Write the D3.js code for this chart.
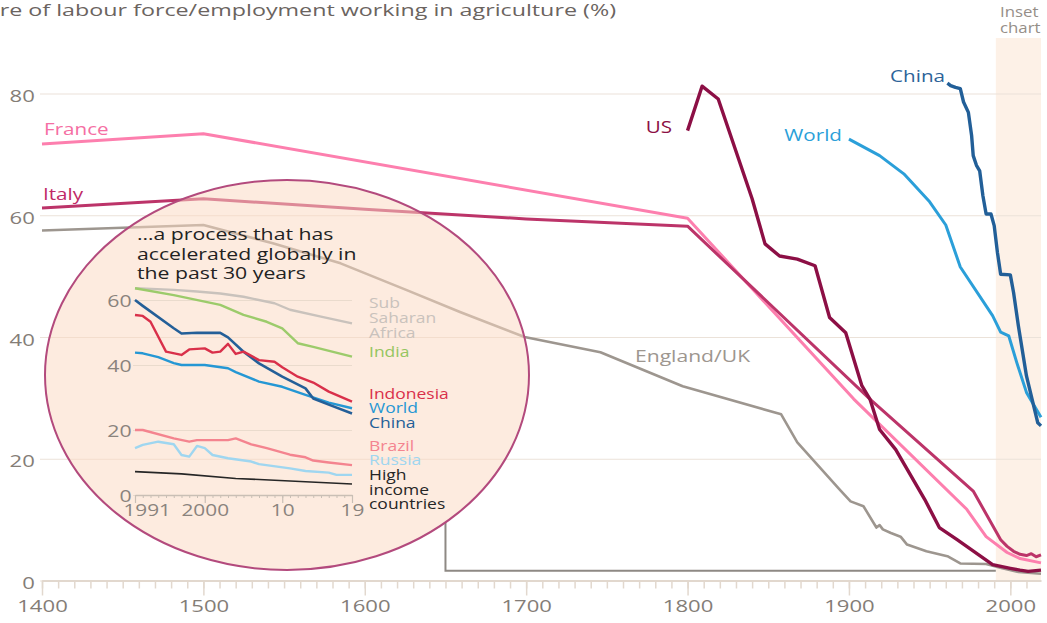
<!DOCTYPE html>
<html>
<head>
<meta charset="utf-8">
<script src="https://cdn.jsdelivr.net/npm/d3@7"></script>
<style>
  body { margin: 0; background: #fff; }
  svg { font-family: "Open Sans", sans-serif; }
</style>
</head>
<body>
<svg id="chart" width="1047" height="623"></svg>
<script>
// main chart data: [year, % of labour force in agriculture]
var england = [[1400,57.5],[1500,58.4],[1543,55.4],[1585,52.1],[1626,47.7],[1659,44.1],[1699,40],[1746,37.5],[1797,31.9],[1858,27.3],[1868,22.7],[1894,15],[1901,13],[1909,12.2],[1917,8.7],[1919,9.1],[1921,8.4],[1926,7.8],[1932,7.2],[1936,5.9],[1948,4.8],[1961,4],[1969,2.8],[1985,2.7],[1995,2.0],[2005,1.4],[2019,1.1]];
var france = [[1400,71.7],[1500,73.4],[1800,59.5],[1903,29.8],[1973,11.7],[1985,7.2],[1998,4.6],[2006,3.6],[2019,2.9]];
var italy = [[1400,61.2],[1500,62.7],[1600,61.0],[1700,59.4],[1800,58.2],[1913,29.8],[1977,14.7],[1994,6.7],[1998,5.6],[2002,4.8],[2006,4.3],[2010,4.1],[2013,4.4],[2016,3.9],[2019,4.2]];
var us = [[1800,73.9],[1809,81.2],[1819,79.1],[1840,62.7],[1848,55.3],[1857,53.3],[1868,52.8],[1879,51.7],[1888,43.2],[1898,40.7],[1908,32],[1913,29.8],[1919,24.8],[1929,21.5],[1947,13.3],[1956,8.7],[1967,6.7],[1989,2.6],[2000,2.0],[2006,1.7],[2011,1.5],[2019,1.7]];
var world = [[1900,72.5],[1919,69.8],[1934,66.8],[1950,62.2],[1960,58.4],[1969,51.5],[1989,43.5],[1994,40.8],[1999,40.2],[2004,35.8],[2010,30.9],[2019,26.8]];
var china = [[1961,81.7],[1963,81.3],[1966,81.0],[1969,80.8],[1971,78.6],[1974,76.9],[1976,73.1],[1977,69.8],[1979,68.2],[1981,67.3],[1983,63.2],[1985,60.2],[1988,60.2],[1990,58.3],[1992,53.9],[1994,50.3],[2000,50.2],[2002,47.3],[2005,41.8],[2010,33.6],[2017,25.9],[2019,25.4]];

var yTicks = [0, 20, 40, 60, 80];
var xMajor = [1400, 1500, 1600, 1700, 1800, 1900, 2000];

// inset chart data (1991-2019)
var inSSA = [[1991,63.6],[1996,63.1],[1999,62.6],[2002,62],[2005,61],[2009,59],[2011,57],[2015,54.9],[2019,52.8]];
var inIndia = [[1991,63.6],[1996,61.5],[2002,58.5],[2005,55.4],[2008,53.3],[2010,51.3],[2012,46.7],[2014,45.6],[2019,42.6]];
var inIndonesia = [[1991,55.4],[1992,55.1],[1993,53.3],[1995,44.1],[1997,43.1],[1998,44.8],[2000,45.1],[2001,43.8],[2002,44.1],[2003,46.5],[2004,43.4],[2005,44.1],[2007,41.5],[2009,41],[2010,39.3],[2012,36.4],[2014,34.6],[2016,31.8],[2019,28.7]];
var inWorld = [[1991,43.8],[1992,43.6],[1994,42.4],[1996,40.6],[1997,40],[2000,40],[2003,39],[2004,37.8],[2007,34.9],[2010,33.3],[2013,30.8],[2016,28.4],[2019,26.7]];
var inChina = [[1991,60],[1992,58.2],[1996,51.3],[1997,49.7],[1999,49.9],[2002,49.9],[2003,48.5],[2005,44.1],[2007,40.5],[2010,36.4],[2013,32.8],[2014,29.7],[2016,27.8],[2019,25.1]];
var inBrazil = [[1991,20],[1992,20],[1996,17.4],[1998,16.4],[1999,16.9],[2003,16.9],[2004,17.4],[2006,15.6],[2008,14.4],[2011,12.4],[2013,11.6],[2014,10.6],[2016,10],[2019,9.2]];
var inRussia = [[1991,14.4],[1992,15.4],[1994,16.4],[1996,15.6],[1997,12.3],[1998,11.8],[1999,15.1],[2000,14.4],[2001,12.3],[2003,11.3],[2006,10.3],[2007,9.5],[2011,8.2],[2013,7.4],[2016,6.9],[2017,6.2],[2019,6.2]];
var inHigh = [[1991,7.2],[1997,6.5],[2004,5.1],[2013,4.1],[2019,3.4]];

var inYTicks = [0, 20, 40, 60];
var inXLabels = [1991, 2000, 2010, 2019];

var svg = d3.select("#chart");
var x = d3.scaleLinear().domain([1400, 2019]).range([42, 1041]);
var y = d3.scaleLinear().domain([0, 80]).range([580.5, 93.5]);

// the source picture is stretched sideways, so text gets a horizontal scale
function label(parent, px, py, str, color, size, anchor, sx) {
  return parent.append("text")
    .attr("transform", "translate(" + px + "," + py + ") scale(" + (sx || 1.29) + ",1)")
    .attr("text-anchor", anchor || "start")
    .attr("fill", color)
    .style("font-size", size + "px")
    .text(str);
}

// shaded band for the inset period
svg.append("rect")
  .attr("x", x(1991)).attr("y", 38)
  .attr("width", x(2019) - x(1991))
  .attr("height", y(0) - 38)
  .attr("fill", "#fdf1e7");

// gridlines and y labels
var gy = svg.append("g")
  .attr("transform", "translate(40,0)")
  .call(d3.axisLeft(y).tickValues(yTicks).tickSize(-(x(2019) - 40)).tickPadding(4));
gy.attr("font-family", null).attr("font-size", null);
gy.select(".domain").remove();
gy.selectAll("line").attr("stroke", "#ebe2d9").attr("stroke-width", 1.2);
gy.selectAll("text").attr("fill", "#847d77").style("font-size", "17px")
  .attr("dy", "0.48em").attr("transform", "scale(1.3,1)");

// x axis: minor ticks every decade, major every century
var gxMinor = svg.append("g")
  .attr("transform", "translate(0," + y(0) + ")")
  .call(d3.axisBottom(x).tickValues(d3.range(1400, 2020, 10)).tickSize(8).tickSizeOuter(0).tickFormat(""));
gxMinor.selectAll("line").attr("stroke", "#e2d8ce").attr("stroke-width", 1.5);
gxMinor.select(".domain").attr("stroke", "#e2d8ce").attr("stroke-width", 2);

var gx = svg.append("g")
  .attr("transform", "translate(0," + y(0) + ")")
  .call(d3.axisBottom(x).tickValues(xMajor).tickSize(15).tickPadding(4).tickFormat(d3.format("d")));
gx.attr("font-family", null).attr("font-size", null);
gx.select(".domain").remove();
gx.selectAll("line").attr("stroke", "#e2d8ce").attr("stroke-width", 1.5);
gx.selectAll("text").attr("fill", "#847d77").style("font-size", "17px")
  .attr("transform", "scale(1.3,1)");

// main lines
var line = d3.line().x(function(d) { return x(d[0]); }).y(function(d) { return y(d[1]); });
var mainSeries = [
  {data: england, color: "#9d968f", w: 2.6},
  {data: france, color: "#fd7fae", w: 3},
  {data: italy, color: "#bc3469", w: 3},
  {data: world, color: "#2b9fd9", w: 3},
  {data: china, color: "#225f98", w: 3.4},
  {data: us, color: "#8c0f45", w: 3.4}
];
svg.selectAll(".main-line")
  .data(mainSeries)
  .enter().append("path")
  .attr("class", "main-line")
  .attr("d", function(d) { return line(d.data); })
  .attr("fill", "none")
  .attr("stroke", function(d) { return d.color; })
  .attr("stroke-width", function(d) { return d.w; })
  .attr("stroke-linejoin", "round");

// series labels
label(svg, 44, 135, "France", "#f56ea3", 16);
label(svg, 43, 200, "Italy", "#c02a66", 16);
label(svg, 672, 133, "US", "#8c0f45", 16, "end");
label(svg, 842, 141, "World", "#2b9fd9", 16, "end");
label(svg, 945, 81.5, "China", "#2d6399", 16, "end");
label(svg, 635, 361.5, "England/UK", "#9d968f", 16, "start", 1.32);
label(svg, 1000, 16.5, "Inset", "#958e88", 14, "start", 1.2);
label(svg, 1000, 33, "chart", "#958e88", 14, "start", 1.2);
label(svg, 616, 16, "Share of labour force/employment working in agriculture (%)", "#6b645f", 17, "end", 1.37);

// inset circle and connector to the shaded band
var cx = 287, cy = 375, rx = 242, ry = 195;
var cxStart = x(1650);
var edgeY = cy + ry * Math.sqrt(1 - Math.pow((cxStart - cx) / rx, 2));
svg.append("path")
  .attr("d", "M" + cxStart + "," + edgeY + "V" + y(1.6) + "H" + x(1991))
  .attr("fill", "none").attr("stroke", "#8e8984").attr("stroke-width", 2);

svg.append("ellipse")
  .attr("cx", cx).attr("cy", cy).attr("rx", rx).attr("ry", ry)
  .attr("fill", "#fbd9c2").attr("fill-opacity", 0.52)
  .attr("stroke", "#b34a7d").attr("stroke-width", 2);

// inset chart
var inset = svg.append("g");
var xi = d3.scaleLinear().domain([1991, 2019]).range([135, 352]);
var yi = d3.scaleLinear().domain([0, 60]).range([495, 300]);

var giy = inset.append("g")
  .attr("transform", "translate(133,0)")
  .call(d3.axisLeft(yi).tickValues(inYTicks).tickSize(-(352 - 133)).tickPadding(1));
giy.attr("font-family", null).attr("font-size", null);
giy.select(".domain").remove();
giy.selectAll("line").attr("stroke", "#eadbcd").attr("stroke-width", 1);
giy.selectAll("text").attr("fill", "#8a837d").style("font-size", "16px")
  .attr("dy", "0.38em").attr("transform", "scale(1.33,1)");

var gixMinor = inset.append("g")
  .attr("transform", "translate(0," + yi(0) + ")")
  .call(d3.axisBottom(xi).tickValues(d3.range(1991, 2020, 1)).tickSize(3).tickSizeOuter(0).tickFormat(""));
gixMinor.selectAll("line").attr("stroke", "#c9bfb5");
gixMinor.select(".domain").attr("stroke", "#c9bfb5").attr("stroke-width", 1.5);

var gix = inset.append("g")
  .attr("transform", "translate(0," + yi(0) + ")")
  .call(d3.axisBottom(xi).tickValues(inXLabels).tickSize(8).tickPadding(2)
    .tickFormat(function(d) { return d === 1991 || d === 2000 ? String(d) : String(d).slice(2); }));
gix.attr("font-family", null).attr("font-size", null);
gix.select(".domain").remove();
gix.selectAll("line").attr("stroke", "#c9bfb5").attr("stroke-width", 1.2);
gix.selectAll("text").attr("fill", "#8a837d").style("font-size", "16px")
  .attr("transform", "scale(1.3,1)")
  .attr("x", function(d) { return d === 1991 ? 9 : 0; });

var lineI = d3.line().x(function(d) { return xi(d[0]); }).y(function(d) { return yi(d[1]); });
var insetSeries = [
  {data: inSSA, color: "#c9c2bc", w: 2.4},
  {data: inIndia, color: "#9ccb6b", w: 2.4},
  {data: inHigh, color: "#262626", w: 1.6},
  {data: inRussia, color: "#9fd6f0", w: 2.4},
  {data: inBrazil, color: "#f4848f", w: 2.4},
  {data: inWorld, color: "#2597d4", w: 2.4},
  {data: inChina, color: "#245f98", w: 2.6},
  {data: inIndonesia, color: "#d9304a", w: 2.4}
];
inset.selectAll(".in-line")
  .data(insetSeries)
  .enter().append("path")
  .attr("class", "in-line")
  .attr("d", function(d) { return lineI(d.data); })
  .attr("fill", "none")
  .attr("stroke", function(d) { return d.color; })
  .attr("stroke-width", function(d) { return d.w; })
  .attr("stroke-linejoin", "round");

label(inset, 137, 239.5, "\u2026a process that has", "#222", 15.5, "start", 1.37);
label(inset, 137, 259.5, "accelerated globally in", "#222", 15.5, "start", 1.37);
label(inset, 137, 278.5, "the past 30 years", "#222", 15.5, "start", 1.37);

var lx = 369;
var ls = 14, lsx = 1.25;
label(inset, lx, 308, "Sub", "#c9c2bc", ls, "start", lsx);
label(inset, lx, 323, "Saharan", "#c9c2bc", ls, "start", lsx);
label(inset, lx, 338, "Africa", "#c9c2bc", ls, "start", lsx);
label(inset, lx, 356.5, "India", "#95c560", ls, "start", lsx);
label(inset, lx, 399, "Indonesia", "#d9304a", ls, "start", lsx);
label(inset, lx, 413, "World", "#2597d4", ls, "start", lsx);
label(inset, lx, 428, "China", "#245f98", ls, "start", lsx);
label(inset, lx, 450.5, "Brazil", "#f4848f", ls, "start", lsx);
label(inset, lx, 465, "Russia", "#9fd6f0", ls, "start", lsx);
label(inset, lx, 480, "High", "#262626", ls, "start", lsx);
label(inset, lx, 495, "income", "#262626", ls, "start", lsx);
label(inset, lx, 509, "countries", "#262626", ls, "start", lsx);
</script>
</body>
</html>
